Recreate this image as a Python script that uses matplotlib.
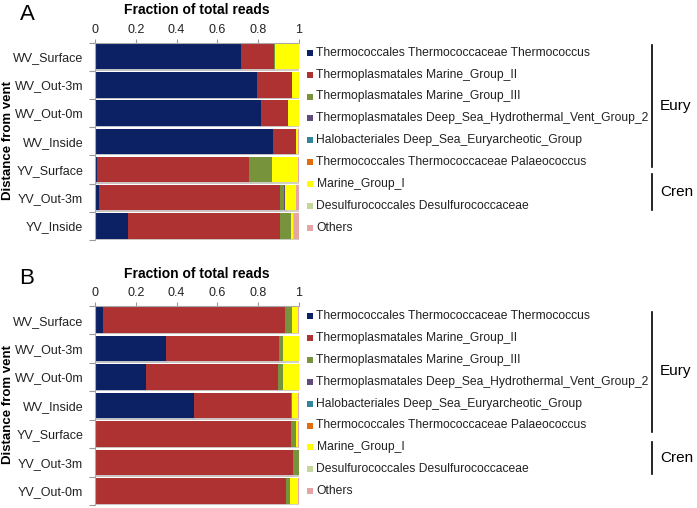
import matplotlib
matplotlib.use("Agg")
import matplotlib.pyplot as plt
import matplotlib.patheffects as pe
import numpy as np

plt.rcParams['font.family'] = ['Liberation Sans', 'DejaVu Sans']

# taxa (legend order) and colours
taxa = ['Thermococcales Thermococcaceae Thermococcus',
        'Thermoplasmatales Marine_Group_II',
        'Thermoplasmatales Marine_Group_III',
        'Thermoplasmatales Deep_Sea_Hydrothermal_Vent_Group_2',
        'Halobacteriales Deep_Sea_Euryarcheotic_Group',
        'Thermococcales Thermococcaceae Palaeococcus',
        'Marine_Group_I',
        'Desulfurococcales Desulfurococcaceae',
        'Others']
colors = ['#0B2164', '#AE3232', '#77933C', '#604A7B', '#31859C',
          '#E46C0A', '#FFFF00', '#C3D69B', '#E6A5A5']

# panel A samples (top to bottom)
samples_a = ['WV_Surface', 'WV_Out-3m', 'WV_Out-0m', 'WV_Inside',
             'YV_Surface', 'YV_Out-3m', 'YV_Inside']
thermococcus_a = [0.718, 0.792, 0.812, 0.874, 0.008, 0.021, 0.161]
mg2_a = [0.159, 0.175, 0.135, 0.111, 0.748, 0.886, 0.746]
mg3_a = [0.003, 0.0, 0.0, 0.0, 0.110, 0.019, 0.054]
dhveg2_a = [0.0, 0.0, 0.0, 0.0, 0.0, 0.004, 0.0]
dseg_a = [0.0, 0.0, 0.0, 0.0, 0.0, 0.002, 0.0]
palaeo_a = [0.0, 0.0, 0.0, 0.0, 0.0, 0.0, 0.0]
mg1_a = [0.118, 0.031, 0.051, 0.012, 0.131, 0.054, 0.011]
desulfo_a = [0.0, 0.0, 0.0, 0.0, 0.0, 0.0, 0.005]
others_a = [0.002, 0.002, 0.002, 0.003, 0.003, 0.013, 0.023]

# panel B samples (top to bottom)
samples_b = ['WV_Surface', 'WV_Out-3m', 'WV_Out-0m', 'WV_Inside',
             'YV_Surface', 'YV_Out-3m', 'YV_Out-0m']
thermococcus_b = [0.040, 0.350, 0.249, 0.487, 0.0, 0.0, 0.0]
mg2_b = [0.891, 0.554, 0.650, 0.472, 0.959, 0.969, 0.936]
mg3_b = [0.033, 0.016, 0.024, 0.008, 0.026, 0.029, 0.020]
dhveg2_b = [0.0, 0.0, 0.0, 0.0, 0.0, 0.0, 0.0]
dseg_b = [0.0, 0.0, 0.0, 0.0, 0.0, 0.0, 0.0]
palaeo_b = [0.0, 0.0, 0.0, 0.0, 0.0, 0.0, 0.0]
mg1_b = [0.033, 0.078, 0.075, 0.027, 0.012, 0.0, 0.041]
desulfo_b = [0.0, 0.0, 0.0, 0.0, 0.0, 0.0, 0.0]
others_b = [0.003, 0.002, 0.002, 0.006, 0.003, 0.002, 0.003]

xticks = [0, 0.2, 0.4, 0.6, 0.8, 1]
xticklabels = ['0', '0.2', '0.4', '0.6', '0.8', '1']

W, H = 697, 508
fig = plt.figure(figsize=(W / 100, H / 100), dpi=100)


def stacked(rect, samples, series):
    ax = fig.add_axes(rect)
    y = np.arange(len(samples))
    left = np.zeros(len(samples))
    for vals, c in zip(series, colors):
        bars = ax.barh(y, vals, left=left, height=0.9, color=c, linewidth=0)
        for b in bars:
            b.set_path_effects([pe.SimplePatchShadow(offset=(1, -1), alpha=0.25),
                                pe.Normal()])
        left += np.array(vals)
    ax.set_xlim(0, 1)
    ax.set_ylim(len(samples) - 0.5, -0.5)
    ax.xaxis.tick_top()
    ax.set_xticks(xticks)
    ax.set_xticklabels(xticklabels, fontsize=9, color='#222222')
    ax.tick_params(axis='x', length=3, color='#999999', pad=2)
    # boundary ticks on the left, labels centred on bars
    ax.set_yticks(np.arange(len(samples) + 1) - 0.5)
    ax.set_yticklabels([])
    ax.tick_params(axis='y', which='major', length=4, color='#999999')
    ax.set_yticks(y, minor=True)
    ax.set_yticklabels(samples, minor=True, fontsize=9, color='#222222')
    ax.tick_params(axis='y', which='minor', length=0, pad=8.5)
    for s in ['right', 'bottom']:
        ax.spines[s].set_visible(False)
    for s in ['top', 'left']:
        ax.spines[s].set_color('#AAAAAA')
        ax.spines[s].set_linewidth(0.8)
    return ax


ax_a = stacked([95 / W, 1 - 240 / H, 204 / W, 197.5 / H], samples_a,
               [thermococcus_a, mg2_a, mg3_a, dhveg2_a, dseg_a, palaeo_a,
                mg1_a, desulfo_a, others_a])
ax_b = stacked([95 / W, 1 - 505 / H, 204 / W, 199 / H], samples_b,
               [thermococcus_b, mg2_b, mg3_b, dhveg2_b, dseg_b, palaeo_b,
                mg1_b, desulfo_b, others_b])

# overlay in pixel coordinates for labels, legends and brackets
ov = fig.add_axes([0, 0, 1, 1])
ov.set_xlim(0, W)
ov.set_ylim(H, 0)
ov.axis('off')

for top, letter, ycen in [(0, 'A', 141), (264, 'B', 405)]:
    ov.text(27, top + 14, letter, fontsize=16, ha='center', va='center')
    ov.text(197, top + 10.5, 'Fraction of total reads', fontsize=10,
            fontweight='bold', ha='center', va='center')
    ov.text(8, ycen, 'Distance from vent', fontsize=9.5, fontweight='bold',
            rotation=90, ha='center', va='center')

for y0, eury, cren in [(52.7, (45, 167), (174, 210)),
                       (316, (311.5, 431.5), (441.5, 473.5))]:
    for i, (t, c) in enumerate(zip(taxa, colors)):
        yy = y0 + i * 21.9
        ov.plot(310, yy, 's', color=c, markersize=4, markeredgewidth=0)
        ov.text(316.5, yy, t, fontsize=8.7, ha='left', va='center',
                color='#222222')
    ov.plot([652, 652], eury, color='black', linewidth=1.2)
    ov.plot([652, 652], cren, color='black', linewidth=1.2)
    ov.text(660, sum(eury) / 2, 'Eury', fontsize=11, ha='left', va='center')
    ov.text(660, sum(cren) / 2, 'Cren', fontsize=11, ha='left', va='center')

fig.savefig('out.png', dpi=100)
